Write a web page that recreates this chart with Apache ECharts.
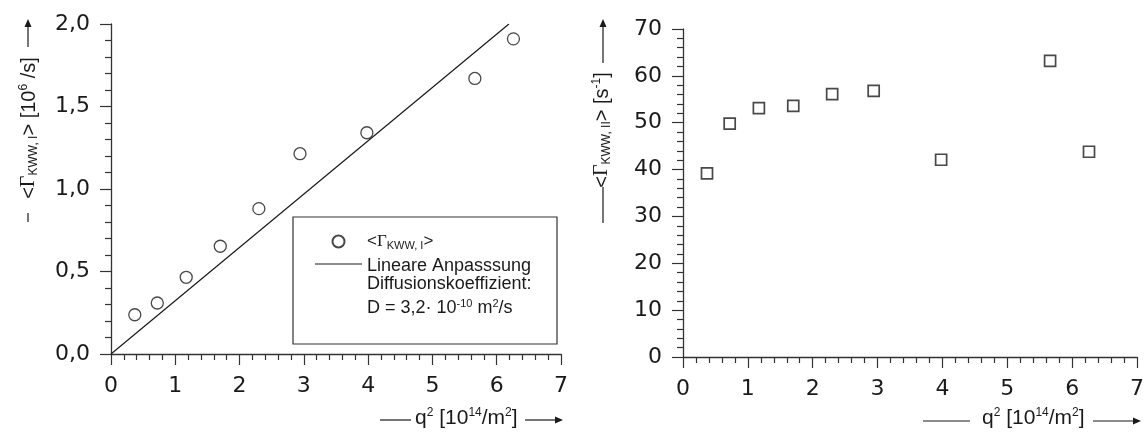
<!DOCTYPE html>
<html>
<head>
<meta charset="utf-8">
<script src="https://cdn.jsdelivr.net/npm/echarts@6/dist/echarts.min.js"></script>
<style>
  html, body { margin: 0; padding: 0; background: #fff; }
  #chart { width: 1147px; height: 432px; }
</style>
</head>
<body>
<div id="chart"></div>
<script>
// q^2 in 10^14/m^2, shared by both panels
const q2 = [0.37, 0.72, 1.17, 1.70, 2.30, 2.94, 3.98, 5.66, 6.26]
// -<Gamma_KWW,I> in 10^6/s
const gammaI = [0.238, 0.309, 0.465, 0.653, 0.881, 1.214, 1.341, 1.67, 1.91]
// <Gamma_KWW,II> in 1/s
const gammaII = [39.2, 49.8, 53.1, 53.6, 56.1, 56.8, 42.1, 63.2, 43.8]
// linear fit end points
const fitX = [0, 6.19]
const fitY = [0, 2.0]
const xTicks = [0, 7, 1]
const yTicksI = [0, 2, 0.5]
const yTicksII = [0, 70, 10]

const font = "'Liberation Sans', Arial, sans-serif"
const tickFont = "'DejaVu Sans', 'Liberation Sans', sans-serif"
const ink = '#1a1a1a'
const axisCol = '#333'

const pairs = (xs, ys) => xs.map((x, i) => [x, ys[i]])

const richSmall = {
  sup: { fontSize: 12, fontFamily: font, color: ink, verticalAlign: 'top', lineHeight: 22 },
  sub: { fontSize: 12, fontFamily: font, color: ink, verticalAlign: 'bottom', lineHeight: 22 },
  g: { fontSize: 20, fontFamily: "'Liberation Serif', serif", color: ink, lineHeight: 22 }
}

function axisBase (min, max, interval, gridIndex) {
  return {
    type: 'value',
    gridIndex,
    min,
    max,
    interval,
    splitLine: { show: false },
    axisLine: { show: true, onZero: false, lineStyle: { color: axisCol, width: 1.3 } },
    axisTick: { show: true, inside: false, length: 11, lineStyle: { color: axisCol, width: 1.2 } },
    minorTick: { show: true, splitNumber: 5, length: 6, lineStyle: { color: axisCol, width: 1.2 } },
    axisLabel: { color: ink, fontSize: 22, fontFamily: tickFont, margin: 21 }
  }
}

// arrow helpers for the axis names
function hArrow (x1, x2, y) {
  return [
    { type: 'line', shape: { x1, y1: y, x2: x2 - 6, y2: y }, style: { stroke: ink, lineWidth: 1.2 } },
    { type: 'polygon', shape: { points: [[x2 - 8, y - 3.5], [x2, y], [x2 - 8, y + 3.5]] }, style: { fill: ink } }
  ]
}
function vArrow (x, y1, y2) {
  return [
    { type: 'line', shape: { x1: x, y1, x2: x, y2: y2 + 6 }, style: { stroke: ink, lineWidth: 1.2 } },
    { type: 'polygon', shape: { points: [[x - 3.5, y2 + 8], [x, y2], [x + 3.5, y2 + 8]] }, style: { fill: ink } }
  ]
}
function hLine (x1, x2, y) {
  return { type: 'line', shape: { x1, y1: y, x2, y2: y }, style: { stroke: ink, lineWidth: 1.2 } }
}
function vLine (x, y1, y2) {
  return { type: 'line', shape: { x1: x, y1, x2: x, y2 }, style: { stroke: ink, lineWidth: 1.2 } }
}
function richText (x, y, text, opts) {
  return Object.assign({
    type: 'text',
    x,
    y,
    style: {
      text,
      fill: ink,
      font: '21px ' + font,
      align: 'left',
      verticalAlign: 'middle',
      rich: richSmall
    }
  }, opts || {})
}

const myChart = echarts.init(document.getElementById('chart'), null, { renderer: 'canvas' })

const xNameText = 'q{sup|2} [10{sup|14}/m{sup|2}]'

myChart.setOption({
  animation: false,
  backgroundColor: '#fff',
  grid: [
    { left: 111, top: 24, width: 450, height: 330 },
    { left: 683, top: 29, width: 456, height: 328 }
  ],
  xAxis: [
    axisBase(xTicks[0], xTicks[1], xTicks[2], 0),
    axisBase(xTicks[0], xTicks[1], xTicks[2], 1)
  ],
  yAxis: [
    Object.assign(axisBase(yTicksI[0], yTicksI[1], yTicksI[2], 0), {
      axisLabel: {
        color: ink,
        fontSize: 22,
        fontFamily: tickFont,
        margin: 21,
        formatter: v => v.toFixed(1).replace('.', ',')
      }
    }),
    axisBase(yTicksII[0], yTicksII[1], yTicksII[2], 1)
  ],
  legend: {
    left: 315,
    top: 233,
    orient: 'vertical',
    itemWidth: 47,
    itemHeight: 12,
    itemGap: 6,
    padding: 0,
    selectedMode: false,
    textStyle: { color: ink, fontSize: 18, fontFamily: font, rich: {
      g: { fontSize: 17, fontFamily: "'Liberation Serif', serif", color: ink, lineHeight: 20 },
      sub: { fontSize: 11, fontFamily: font, color: ink, verticalAlign: 'bottom', lineHeight: 20 },
      t: { fontSize: 17, fontFamily: font, color: ink, lineHeight: 20 }
    } },
    formatter: name => name === 'gammaI' ? '{t|<}{g|Γ}{sub|KWW, I}{t|>}' : 'Lineare Anpasssung',
    data: [
      { name: 'gammaI' },
      { name: 'fit', icon: 'none', itemStyle: { opacity: 0 } }
    ]
  },
  graphic: [
    { type: 'rect', shape: { x: 293, y: 217, width: 264, height: 127 }, style: { fill: 'none', stroke: axisCol, lineWidth: 1.2 }, z: 10 },
    richText(367, 284, '', { style: { text: 'Diffusionskoeffizient:', fill: ink, font: '18px ' + font, align: 'left', verticalAlign: 'middle' } }),
    richText(367, 308, '', { style: {
      text: 'D = 3,2· 10{sup|-10} m{sup|2}/s',
      fill: ink,
      font: '18px ' + font,
      align: 'left',
      verticalAlign: 'middle',
      rich: { sup: { fontSize: 11, fontFamily: font, color: ink, verticalAlign: 'top', lineHeight: 20 } }
    } }),
    // line sample in the legend box
    hLine(315, 362, 264),
    // left x name
    hLine(380, 411, 420),
    richText(415, 418, xNameText),
    ...hArrow(525, 563, 420),
    // right x name
    hLine(923, 970, 421),
    richText(982, 418, xNameText),
    ...hArrow(1093, 1141, 421),
    // left y name
    vLine(28, 222, 213),
    richText(29, 128, '', { rotation: Math.PI / 2, style: {
      text: '<{g|Γ}{sub|KWW, I}> [10{sup|6} /s]', fill: ink, font: '20px ' + font, align: 'center', verticalAlign: 'middle', rich: richSmall
    } }),
    ...vArrow(28, 47, 19),
    // right y name
    vLine(603, 223, 187),
    richText(602, 130, '', { rotation: Math.PI / 2, style: {
      text: '<{g|Γ}{sub|KWW, II}> [s{sup|-1}]', fill: ink, font: '20px ' + font, align: 'center', verticalAlign: 'middle', rich: richSmall
    } }),
    ...vArrow(603, 63, 19)
  ],
  series: [
    {
      name: 'gammaI',
      type: 'scatter',
      xAxisIndex: 0,
      yAxisIndex: 0,
      symbol: 'circle',
      symbolSize: 12,
      itemStyle: { color: '#fff', borderColor: ink, borderWidth: 1.3 },
      data: pairs(q2, gammaI),
      z: 5
    },
    {
      name: 'fit',
      type: 'line',
      xAxisIndex: 0,
      yAxisIndex: 0,
      symbol: 'none',
      itemStyle: { color: ink },
      lineStyle: { color: ink, width: 1.2 },
      data: pairs(fitX, fitY)
    },
    {
      name: 'gammaII',
      type: 'scatter',
      xAxisIndex: 1,
      yAxisIndex: 1,
      symbol: 'rect',
      symbolSize: 11,
      itemStyle: { color: '#fff', borderColor: ink, borderWidth: 1.7 },
      data: pairs(q2, gammaII)
    }
  ]
})
</script>
</body>
</html>
